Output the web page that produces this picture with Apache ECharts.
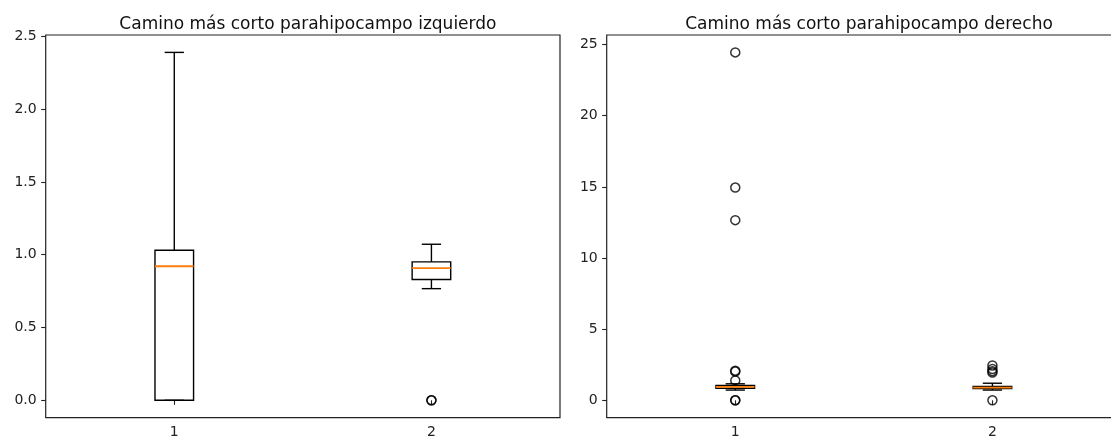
<!DOCTYPE html>
<html>
<head>
<meta charset="utf-8">
<script src="https://cdn.jsdelivr.net/npm/echarts@6/dist/echarts.min.js"></script>
<style>
  html, body { margin: 0; padding: 0; background: #fff; }
  #chart { width: 1111px; height: 440px; }
</style>
</head>
<body>
<div id="chart"></div>
<script>
// Box positions on the x axis
const categories = ['1', '2'];

// Each box: [lower whisker, Q1, median, Q3, upper whisker]
const leftBoxes = [
  [0.0, 0.0, 0.921, 1.031, 2.39],
  [0.767, 0.830, 0.908, 0.951, 1.072]
];
const leftOutliers = [
  [],
  [0.0, 0.0]
];

const rightBoxes = [
  [0.72, 0.85, 0.95, 1.05, 1.16],
  [0.72, 0.82, 0.89, 0.97, 1.20]
];
const rightOutliers = [
  [24.45, 14.95, 12.66, 2.08, 2.02, 1.40, 0.0, 0.0],
  [2.45, 2.20, 2.05, 1.95, 0.0]
];

const leftTicks = [0, 0.5, 1.0, 1.5, 2.0, 2.5];
const rightTicks = [0, 5, 10, 15, 20, 25];

const leftTitle = 'Camino más corto parahipocampo izquierdo';
const rightTitle = 'Camino más corto parahipocampo derecho';

const FONT = '"DejaVu Sans", sans-serif';
const INK = '#000';
const MEDIAN = '#ff7f0e';

// matplotlib-like autoscale: data extent padded by 5% on each side
function paddedExtent(boxes, outliers) {
  const vals = [];
  boxes.forEach(b => vals.push(...b));
  outliers.forEach(o => vals.push(...o));
  const lo = Math.min(...vals), hi = Math.max(...vals);
  const pad = (hi - lo) * 0.05;
  return [lo - pad, hi + pad];
}

function boxData(boxes) {
  return boxes.map((b, i) => [i].concat(b));
}

function outlierData(outliers) {
  const out = [];
  outliers.forEach((list, i) => list.forEach(v => out.push([i, v])));
  return out;
}

function renderBox(params, api) {
  const x = api.value(0);
  const lo = api.value(1), q1 = api.value(2), med = api.value(3),
        q3 = api.value(4), hi = api.value(5);
  const band = api.size([1, 0])[0];
  const bw = band * 0.15;
  const cw = bw / 2;
  const pLo = api.coord([x, lo]);
  const pQ1 = api.coord([x, q1]);
  const pMed = api.coord([x, med]);
  const pQ3 = api.coord([x, q3]);
  const pHi = api.coord([x, hi]);
  const cx = pMed[0];
  const st = { stroke: INK, lineWidth: 1.4, fill: null };
  const line = (x1, y1, x2, y2, style) => ({
    type: 'line', shape: { x1, y1, x2, y2 }, style
  });
  return {
    type: 'group',
    children: [
      line(cx, pQ1[1], cx, pLo[1], st),
      line(cx, pQ3[1], cx, pHi[1], st),
      line(cx - cw / 2, pLo[1], cx + cw / 2, pLo[1], st),
      line(cx - cw / 2, pHi[1], cx + cw / 2, pHi[1], st),
      {
        type: 'rect',
        shape: { x: cx - bw / 2, y: pQ3[1], width: bw, height: pQ1[1] - pQ3[1] },
        style: { stroke: INK, lineWidth: 1.4, fill: 'rgba(0,0,0,0)' }
      },
      line(cx - bw / 2, pMed[1], cx + bw / 2, pMed[1], { stroke: MEDIAN, lineWidth: 1.8 })
    ]
  };
}

function xAxisFor(gridIndex) {
  return {
    type: 'category',
    gridIndex,
    data: categories,
    boundaryGap: true,
    axisLine: { show: false },
    axisTick: { show: true, alignWithLabel: true, length: 4.5, lineStyle: { color: '#222', width: 1.1 } },
    axisLabel: { color: '#222', fontFamily: FONT, fontSize: 14, margin: 8 },
    splitLine: { show: false }
  };
}

function yAxisFor(gridIndex, ext, ticks, digits) {
  return {
    type: 'value',
    gridIndex,
    min: ext[0],
    max: ext[1],
    axisLine: { show: false },
    splitLine: { show: false },
    axisTick: { show: true, length: 4.5, customValues: ticks, lineStyle: { color: '#222', width: 1.1 } },
    axisLabel: {
      customValues: ticks,
      color: '#222', fontFamily: FONT, fontSize: 14, margin: 9,
      formatter: v => Number(v).toFixed(digits)
    }
  };
}

const leftExt = paddedExtent(leftBoxes, leftOutliers);
const rightExt = paddedExtent(rightBoxes, rightOutliers);

const gridBase = {
  show: true, borderColor: '#222', borderWidth: 1.2, backgroundColor: 'transparent',
  top: 35, height: 382.7, containLabel: false, outerBoundsMode: 'none'
};

const outlierStyle = {
  color: 'rgba(0,0,0,0)', borderColor: INK, borderWidth: 1.5
};

const titleStyle = { fontFamily: FONT, fontSize: 17, fontWeight: 'normal', color: '#111' };

const option = {
  animation: false,
  backgroundColor: '#fff',
  title: [
    { text: leftTitle, left: 302.9, top: 11, textAlign: 'center', textStyle: titleStyle },
    { text: rightTitle, left: 864, top: 11, textAlign: 'center', textStyle: titleStyle }
  ],
  grid: [
    Object.assign({}, gridBase, { left: 45.7, width: 514.3 }),
    Object.assign({}, gridBase, { left: 606.7, width: 514.3 })
  ],
  xAxis: [xAxisFor(0), xAxisFor(1)],
  yAxis: [
    yAxisFor(0, leftExt, leftTicks, 1),
    yAxisFor(1, rightExt, rightTicks, 0)
  ],
  series: [
    {
      type: 'custom', xAxisIndex: 0, yAxisIndex: 0,
      renderItem: renderBox, data: boxData(leftBoxes),
      encode: { x: 0, y: [1, 2, 3, 4, 5] }, clip: false
    },
    {
      type: 'scatter', xAxisIndex: 0, yAxisIndex: 0,
      data: outlierData(leftOutliers), symbol: 'circle', symbolSize: 9,
      itemStyle: outlierStyle
    },
    {
      type: 'custom', xAxisIndex: 1, yAxisIndex: 1,
      renderItem: renderBox, data: boxData(rightBoxes),
      encode: { x: 0, y: [1, 2, 3, 4, 5] }, clip: false
    },
    {
      type: 'scatter', xAxisIndex: 1, yAxisIndex: 1,
      data: outlierData(rightOutliers), symbol: 'circle', symbolSize: 9,
      itemStyle: outlierStyle
    }
  ]
};

const chart = echarts.init(document.getElementById('chart'), null, { renderer: 'canvas' });
chart.setOption(option);
</script>
</body>
</html>
